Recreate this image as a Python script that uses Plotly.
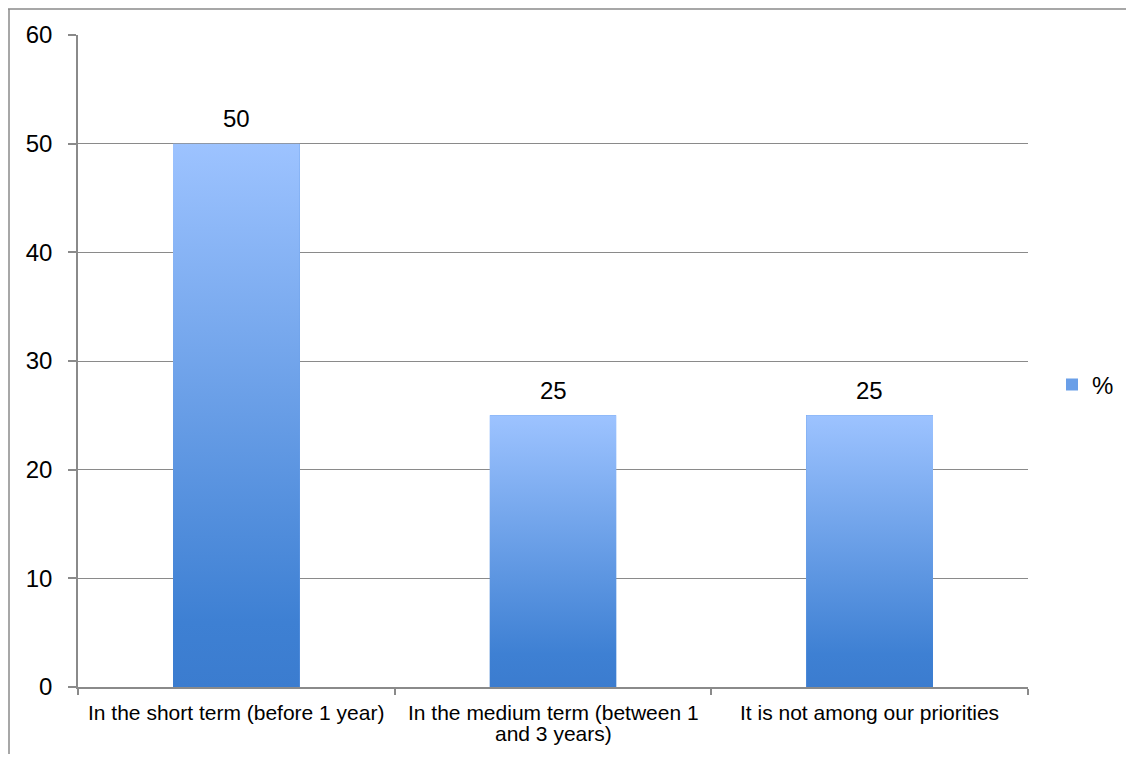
import plotly.graph_objects as go

categories = [
    "In the short term (before 1 year)",
    "In the medium term (between 1\nand 3 years)",
    "It is not among our priorities",
]
values = [50, 25, 25]
series_name = "%"
y_ticks = [0, 10, 20, 30, 40, 50, 60]

BAR_WIDTH = 0.4
GRAD = [[0, "#3b7ccf"], [0.12, "#3e80d3"], [1, "#9dc3ff"]]
FONT = "Arial, Liberation Sans, sans-serif"

positions = list(range(len(categories)))
fig = go.Figure()

# base bars (library bar trace, also provides the legend swatch)
fig.add_trace(go.Bar(
    x=positions, y=values, width=BAR_WIDTH, name=series_name,
    marker=dict(color="#6a9fe8", line=dict(width=0)),
    hoverinfo="skip",
))

# gradient overlay per bar
for pos, v in zip(positions, values):
    h = BAR_WIDTH / 2
    fig.add_trace(go.Scatter(
        x=[pos - h, pos + h, pos + h, pos - h, pos - h],
        y=[0, 0, v, v, 0],
        mode="none", fill="toself",
        fillgradient=dict(type="vertical", colorscale=GRAD),
        showlegend=False, hoverinfo="skip",
    ))

# value labels
for pos, v in zip(positions, values):
    fig.add_annotation(
        x=pos, y=v, xref="x", yref="y", text=str(v), showarrow=False,
        yanchor="middle", xanchor="center", yshift=25,
        font=dict(size=24, color="#000000", family=FONT),
    )

# page geometry (page body has an 8px margin)
OFF = 8
W, H = 1134, 762
L, R, T, B = 78, 1028, 35, 687          # plot area, absolute page px
pw, ph = R - L, B - T
figW, figH = W - OFF, 746
def px(x): return (x - L) / pw
def py(y): return (B - y) / ph

# category labels, one annotation per line (tight line spacing)
for pos, cat in zip(positions, categories):
    for k, line in enumerate(cat.split("\n")):
        fig.add_annotation(
            x=pos, xref="x", y=0, yref="paper", text=line, showarrow=False,
            yanchor="middle", xanchor="center", yshift=-(25 + 21 * k),
            font=dict(size=21, color="#000000", family=FONT),
        )

# outer frame lines (top and left)
fig.add_shape(type="line", xref="paper", yref="paper", x0=px(8), x1=px(W + 5), y0=py(9), y1=py(9),
              line=dict(color="#8a8a8a", width=1.5))
fig.add_shape(type="line", xref="paper", yref="paper", x0=px(9), x1=px(9), y0=py(9), y1=py(H + 5),
              line=dict(color="#8a8a8a", width=1.5))

fig.update_layout(
    width=figW, height=figH,
    margin=dict(l=L - OFF, r=figW - (L - OFF) - pw, t=T - OFF, b=figH - (T - OFF) - ph),
    paper_bgcolor="white", plot_bgcolor="white",
    font=dict(family=FONT, color="#000000"),
    bargap=0,
    legend=dict(x=px(1052), y=py(385), xanchor="left", yanchor="middle",
                font=dict(size=24), bgcolor="rgba(0,0,0,0)", borderwidth=0,
                itemwidth=30),
    xaxis=dict(
        range=[-0.5, len(categories) - 0.5],
        tickvals=positions, showticklabels=False, ticks="",
        showgrid=False, zeroline=False,
        showline=True, linecolor="#8a8a8a", linewidth=1.5,
        minor=dict(tickmode="linear", tick0=-0.5, dtick=1, ticks="outside",
                   ticklen=6, tickcolor="#8a8a8a", tickwidth=1.5, showgrid=False),
    ),
    yaxis=dict(
        range=[0, 60], tickvals=y_ticks,
        ticks="outside", ticklen=8, tickcolor="#8a8a8a", tickwidth=1.5,
        tickfont=dict(size=24),
        showgrid=True, gridcolor="#8a8a8a", gridwidth=1.3,
        zeroline=False, showline=True, linecolor="#8a8a8a", linewidth=1.5,
        ticklabelstandoff=11,
    ),
)

fig.write_html("out.html")
